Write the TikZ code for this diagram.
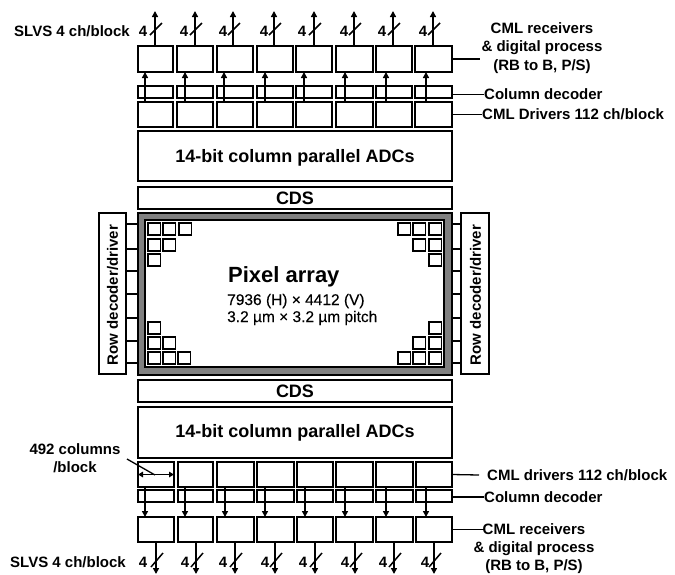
\documentclass[tikz,border=0pt]{standalone}
\usepackage{fontspec}
\setmainfont{Liberation Sans}
\newfontfamily\semibold[FakeBold=0.25]{Liberation Sans}
\usetikzlibrary{arrows.meta}
\tikzset{
  blk/.style={draw=black,line width=1.6pt,fill=white,inner sep=0pt,outer sep=0pt,font=\bfseries},
  gray frame/.style={blk,fill=black!50,line width=1.2pt},
  conn/.style={line width=1.6pt,-{Triangle[length=6pt,width=6pt]}},
  dbl/.style={line width=1.4pt,{Triangle[length=5pt,width=5.5pt]}-{Triangle[length=5pt,width=5.5pt]}},
  lead/.style={line width=1.3pt},
  slash/.style={line width=1.5pt},
  lbl/.style={font=\fontsize{15}{15}\selectfont\bfseries,inner sep=0pt},
  four/.style={font=\fontsize{15}{15}\selectfont\bfseries,inner sep=0pt},
  big/.style={font=\fontsize{18}{20}\selectfont\bfseries,inner sep=0pt},
  sub/.style={font=\fontsize{15.5}{17}\selectfont\semibold,anchor=west,inner sep=0pt},
}
\newcommand{\bx}[6][]{%
  \pgfmathsetmacro{\bw}{#5-#3}\pgfmathsetmacro{\bh}{#6-#4}%
  \pgfmathsetmacro{\bcx}{(#5+#3)/2}\pgfmathsetmacro{\bcy}{(#6+#4)/2}%
  \node[blk,minimum width=\bw pt,minimum height=\bh pt,#1] (#2) at (\bcx,\bcy) {};}
\begin{document}
\begin{tikzpicture}[x=1pt,y=-1pt]
\useasboundingbox (0,0) rectangle (675,574);
% top columns
\foreach \i/\a/\b/\c/\d/\e/\f in {
 1/138/173/145/143/155/150,
 2/177/213/185/184/195/190,
 3/217/253/224/223/233/228,
 4/257/293/265/264/274/269,
 5/296/332/304/302/314/309,
 6/336/373/345/344/354/349,
 7/376/412/386/382/393/388,
 8/415/452/426/423/433/428}{
  \bx{tr\i}{\a}{46}{\b}{72}
  \bx{tdec\i}{\a}{86}{\b}{98}
  \bx{tdrv\i}{\a}{102}{\b}{127}
  \coordinate (tout\i) at (\e,11);
  \coordinate (tin\i) at (\c,102);
  \coordinate (ttip\i) at (\c,72);
  \draw[conn] (tin\i) -- (ttip\i);
  \draw[conn] (tout\i |- tr\i.north) -- (tout\i);
  \node[four] (tfour\i) at (\d,31) {4};
  \coordinate (ts\i) at (\f,35);
  \draw[slash] (ts\i) -- ++(12,-12);
}
% ADC and CDS top
\bx{tadc}{138}{131}{452}{181}
\node[big] (tadct) at (295,158) {14-bit column parallel ADCs};
\bx{tcds}{138}{187}{452}{209}
\node[big] (tcdst) at (295,198.5) {CDS};
% array
\bx[gray frame]{outer}{138}{213}{452}{375}
\bx{inner}{145}{220}{444}{367}
% pixels
\foreach \n/\x/\y in {
 a/148/223,b/163/223,c/179/223,d/148/239,e/163/239,f/148/254,
 g/148/322,h/148/337,i/163/337,j/148/352,k/163/352,l/178/352,
 m/398/223,n/413/223,o/429/223,p/413/239,q/429/239,r/429/254,
 s/429/322,t/413/337,u/429/337,v/398/352,w/413/352,x/429/352}{
  \pgfmathsetmacro{\xe}{\x+12.5}\pgfmathsetmacro{\ye}{\y+12}
  \bx{px\n}{\x}{\y}{\xe}{\ye}
}
\node[font=\fontsize{22}{24}\selectfont\bfseries,anchor=west,inner sep=0pt] (title) at (228,277) {Pixel array};
\node[sub] (dim) at (227,301) {7936 (H) × 4412 (V)};
\node[sub] (pitch) at (227,318) {3.2 µm × 3.2 µm pitch};
% row decoders
\bx{rl}{99}{213}{126}{374}
\bx{rr}{461}{213}{489}{374}
\node[rotate=90,font=\fontsize{15}{17}\selectfont\bfseries] (rlt) at (112.5,295) {Row decoder/driver};
\node[rotate=90,font=\fontsize{15}{17}\selectfont\bfseries] (rrt) at (475.5,295) {Row decoder/driver};
\foreach \y in {224,249,271,294,318,341,363}{
  \coordinate (lt\y) at (126,\y);
  \coordinate (rt\y) at (461,\y);
  \draw[lead] (lt\y) -- (lt\y -| outer.west);
  \draw[lead] (rt\y) -- (rt\y -| outer.east);
}
% bottom CDS, ADC
\bx{bcds}{138}{380}{452}{402}
\node[big] (bcdst) at (295,391.5) {CDS};
\bx{badc}{138}{407}{452}{458}
\node[big] (badct) at (295,433) {14-bit column parallel ADCs};
% bottom columns
\foreach \i/\a/\b/\c/\d/\e in {
 1/138/174/145/143/156,
 2/178/213/185/185/196,
 3/217/254/225/223/235,
 4/257/294/265/265/275,
 5/297/333/305/303/315,
 6/336/373/345/345/355,
 7/376/413/386/383/394,
 8/416/452/426/425/434}{
  \bx{bdrv\i}{\a}{462}{\b}{487}
  \bx{bdec\i}{\a}{490}{\b}{502}
  \bx{br\i}{\a}{517}{\b}{542}
  \coordinate (bin\i) at (\c,487);
  \coordinate (btip\i) at (\c,517);
  \coordinate (bout\i) at (\e,574);
  \draw[conn] (bin\i) -- (btip\i);
  \draw[conn] (bout\i |- br\i.south) -- (bout\i);
  \node[four] (bfour\i) at (\d,562) {4};
  \coordinate (bs\i) at (\e-5,567);
  \draw[slash] (bs\i) -- ++(12,-14);
}
% labels left
\node[lbl,anchor=west] (slvst) at (14,31) {SLVS 4 ch/block};
\node[lbl,anchor=west] (slvsb) at (10,562) {SLVS 4 ch/block};
\node[lbl,align=center] (cols) at (75,458) {492 columns\\[3pt]/block};
\coordinate (wa) at (127,459);
\coordinate (wb) at (155,475);
\draw[lead] (wa) -- (wb);
\draw[dbl] (bdrv1.west) -- (bdrv1.east);
% labels right
\node[lbl,align=center] (trl) at (542,48) {CML receivers\\[3.5pt]\& digital process\\[3.5pt](RB to B, P/S)};
\node[lbl,anchor=west] (tdl) at (484,94.5) {Column decoder};
\node[lbl,anchor=west] (tcl) at (482,114.5) {CML Drivers 112 ch/block};
\node[lbl,anchor=west] (bcl) at (487,475) {CML drivers 112 ch/block};
\node[lbl,anchor=west] (bdl) at (484,497) {Column decoder};
\node[lbl,align=center] (brl) at (534,549) {CML receivers\\[3pt]\& digital process\\[3pt](RB to B, P/S)};
\coordinate (trend) at (480,59);
\coordinate (bcend) at (479,475);
\coordinate (brend) at (484,529.5);
\draw[lead] (tr8.east) -- (trend);
\draw[lead] (tdl.west -| tdec8.east) -- (tdl.west);
\draw[lead] (tcl.west -| tdrv8.east) -- (tcl.west);
\draw[lead] (bdrv8.east) -- (bcend);
\draw[lead] (bdl.west -| bdec8.east) -- (bdl.west);
\draw[lead] (br8.east) -- (brend);
\end{tikzpicture}
\end{document}
